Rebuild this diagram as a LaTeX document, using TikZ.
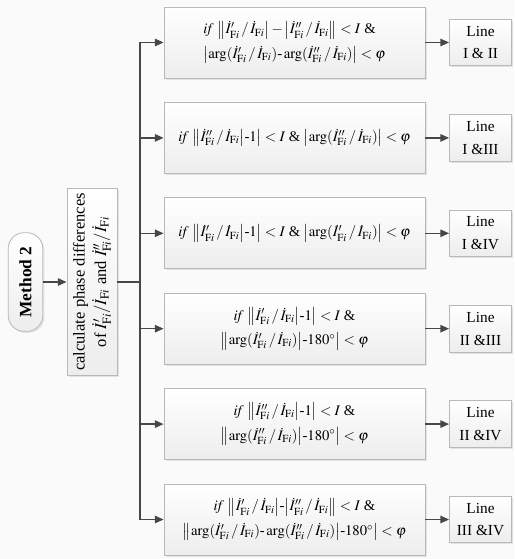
\documentclass[tikz,border=0pt]{standalone}
\usepackage{mathptmx}
\usepackage[no-math]{fontspec}
\setmainfont{Liberation Serif}
\usetikzlibrary{arrows.meta,shadows}
\makeatletter
\newcommand{\vl}{\mathopen{\bBigg@{1.1}|}}
\newcommand{\vr}{\mathclose{\bBigg@{1.1}|}}
\newcommand{\vvl}{\mathopen{\bBigg@{1.1}\|}}
\newcommand{\vvr}{\mathclose{\bBigg@{1.1}\|}}
\makeatother
\begin{document}
\begin{tikzpicture}[x=0.75pt,y=-0.75pt,
  box/.style={draw=black!28, line width=0.6pt, top color=white, bottom color=black!7,
    drop shadow={opacity=0.18, shadow xshift=1.2pt, shadow yshift=-1.2pt}},
  cond/.style={box, minimum width=195.75pt, minimum height=53.25pt, inner sep=1pt,
    font=\fontsize{11}{13}\selectfont},
  linebox/.style={box, minimum width=46.5pt, minimum height=35pt, inner sep=1pt, align=center,
    font=\fontsize{11.5}{17}\selectfont},
  arr/.style={draw=black!72, line width=1.1pt, -{Triangle[length=6.5pt,width=5.5pt]}},
  ln/.style={draw=black!72, line width=1.1pt}
]
\useasboundingbox (0,0) rectangle (514,559);
\fill[black!2] (0,0) rectangle (514,559);
\newcommand{\Ip}{\dot I'_{\mathrm{F}i}}
\newcommand{\Ipp}{\dot I''_{\mathrm{F}i}}
\newcommand{\Io}{\dot I_{\mathrm{F}i}}
\newcommand{\dv}{\,/\,}
\newcommand{\mn}{\mbox{-}}

\node[box, rotate=90, minimum width=74pt, minimum height=26pt, rounded corners=12pt,
  font=\fontsize{13}{15}\selectfont\bfseries] (m2) at (25.5,282) {Method 2};
\node[box, rotate=90, minimum width=140pt, minimum height=37.5pt, align=center, inner sep=1pt,
  font=\fontsize{12.4}{16}\selectfont] (calc) at (92,282)
  {calculate phase differences\\ of $\Ip/\Io$ and $\Ipp/\Io$};
\coordinate (tr) at (140,282);

\node[cond, align=left] (c1) at (294.5,42.5)
  {$\mathit{if}\ \vvl\Ip\dv\Io\vr-\vl\Ipp\dv\Io\vvr<I$ \&\\[3pt]
   $\vl\arg(\Ip\dv\Io)\mn\arg(\Ipp\dv\Io)\vr<\varphi$};
\node[cond] (c2) at (294.5,137.9)
  {$\mathit{if}\ \vvl\Ipp\dv\Io\vr\mn1\vr<I$ \& $\vl\arg(\Ipp\dv\Io)\vr<\varphi$};
\node[cond] (c3) at (294.5,233.3)
  {$\mathit{if}\ \vvl\Ip\dv\Io\vr\mn1\vr<I$ \& $\vl\arg(\Ip\dv\Io)\vr<\varphi$};
\node[cond, align=center] (c4) at (294.5,328.7)
  {$\mathit{if}\ \vvl\Ip\dv\Io\vr\mn1\vr<I$ \&\\[3pt]
   $\vvl\arg(\Ip\dv\Io)\vr\mn180^\circ\vr<\varphi$};
\node[cond, align=center] (c5) at (294.5,424.1)
  {$\mathit{if}\ \vvl\Ipp\dv\Io\vr\mn1\vr<I$ \&\\[3pt]
   $\vvl\arg(\Ipp\dv\Io)\vr\mn180^\circ\vr<\varphi$};
\node[cond, align=center] (c6) at (294.5,519.5)
  {$\mathit{if}\ \vvl\Ip\dv\Io\vr\mn\vl\Ipp\dv\Io\vvr<I$ \&\\[3pt]
   $\vvl\arg(\Ip\dv\Io)\mn\arg(\Ipp\dv\Io)\vr\mn180^\circ\vr<\varphi$};

\node[linebox] (l1) at (480.5,42.5) {Line\\I \& II};
\node[linebox] (l2) at (480.5,137.9) {Line\\I \&III};
\node[linebox] (l3) at (480.5,233.3) {Line\\I \&IV};
\node[linebox] (l4) at (480.5,328.7) {Line\\II \&III};
\node[linebox] (l5) at (480.5,424.1) {Line\\II \&IV};
\node[linebox] (l6) at (480.5,519.5) {Line\\III \&IV};

\draw[arr] (m2.south) -- (calc.north);
\draw[ln] (calc.south) -- (tr);
\foreach \i in {1,...,6}{
  \draw[arr] (tr) |- (c\i.west);
  \draw[arr] (c\i.east) -- (l\i.west);
}
\end{tikzpicture}
\end{document}
